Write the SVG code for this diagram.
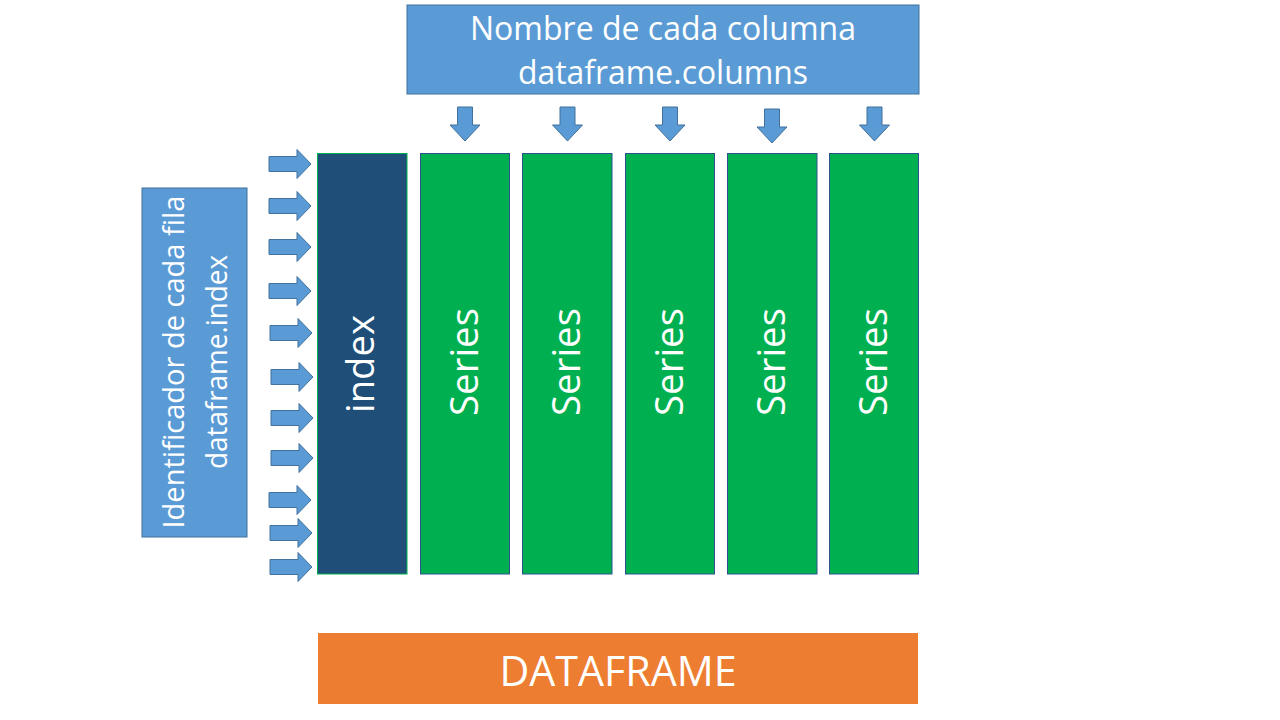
<svg xmlns="http://www.w3.org/2000/svg" width="1280" height="720" viewBox="0 0 1280 720">
<defs>
<style>
.blue{fill:#5B9BD5;stroke:#41719C;stroke-width:1}
.ser{fill:#00B050;stroke:#2F528F;stroke-width:1}
.idx{fill:#1F4E79;stroke:#00B050;stroke-width:1}
.df{fill:#ED7D31}
.t{font-family:"Open Sans","Noto Sans","Liberation Sans",sans-serif;fill:#FFFFFF;text-anchor:middle}
.big{font-size:39px}
</style>
<path id="ra" d="M0,-7.5 H28 V-14.5 L42,0 L28,14.5 V7.5 H0 Z"/>
<path id="da" d="M-7.5,0 V18 H-15 L0,34 L15,18 H7.5 V0 Z"/>
</defs>
<rect width="1280" height="720" fill="#FFFFFF"/>

<g id="columns-box">
<rect class="blue" x="407" y="5" width="512" height="89"/>
<text class="t" x="663" y="40" font-size="33.5" textLength="386" lengthAdjust="spacingAndGlyphs">Nombre de cada columna</text>
<text class="t" x="663" y="84" font-size="33.5" textLength="290" lengthAdjust="spacingAndGlyphs">dataframe.columns</text>
</g>

<g id="index-box">
<rect class="blue" x="142" y="188" width="105" height="349"/>
<g transform="rotate(-90 195 362)">
<text class="t" x="195" y="351" font-size="30" textLength="333" lengthAdjust="spacingAndGlyphs">Identificador de cada fila</text>
<text class="t" x="195" y="394" font-size="30" textLength="214" lengthAdjust="spacingAndGlyphs">dataframe.index</text>
</g>
</g>

<g id="index">
<rect class="idx" x="317.5" y="153.5" width="89.5" height="420.5"/>
<text class="t big" transform="rotate(-90 362 364)" x="362" y="376" textLength="98" lengthAdjust="spacingAndGlyphs">index</text>
</g>

<g id="series1">
<rect class="ser" x="420.5" y="153.5" width="89" height="420.5"/>
<text class="t big" transform="rotate(-90 464.5 362)" x="464.5" y="375" textLength="108" lengthAdjust="spacingAndGlyphs">Series</text>
</g>
<g id="series2">
<rect class="ser" x="522.5" y="153.5" width="89.5" height="420.5"/>
<text class="t big" transform="rotate(-90 567 362)" x="567" y="375" textLength="108" lengthAdjust="spacingAndGlyphs">Series</text>
</g>
<g id="series3">
<rect class="ser" x="625.5" y="153.5" width="89" height="420.5"/>
<text class="t big" transform="rotate(-90 669.5 362)" x="669.5" y="375" textLength="108" lengthAdjust="spacingAndGlyphs">Series</text>
</g>
<g id="series4">
<rect class="ser" x="727.5" y="153.5" width="89.5" height="420.5"/>
<text class="t big" transform="rotate(-90 772 362)" x="772" y="375" textLength="108" lengthAdjust="spacingAndGlyphs">Series</text>
</g>
<g id="series5">
<rect class="ser" x="829.5" y="153.5" width="89" height="420.5"/>
<text class="t big" transform="rotate(-90 873.5 362)" x="873.5" y="375" textLength="108" lengthAdjust="spacingAndGlyphs">Series</text>
</g>

<g id="dataframe">
<rect class="df" x="318" y="633" width="600" height="71"/>
<text class="t" x="618" y="686" font-size="42" textLength="237" lengthAdjust="spacingAndGlyphs">DATAFRAME</text>
</g>

<g id="connectors">
<use href="#ra" class="blue" x="269" y="164"/>
<use href="#ra" class="blue" x="269" y="206"/>
<use href="#ra" class="blue" x="269" y="247"/>
<use href="#ra" class="blue" x="269" y="291"/>
<use href="#ra" class="blue" x="270" y="333"/>
<use href="#ra" class="blue" x="271" y="377"/>
<use href="#ra" class="blue" x="271" y="418"/>
<use href="#ra" class="blue" x="271" y="458"/>
<use href="#ra" class="blue" x="269" y="500"/>
<use href="#ra" class="blue" x="270" y="533"/>
<use href="#ra" class="blue" x="270" y="567"/>
<use href="#da" class="blue" x="465" y="107"/>
<use href="#da" class="blue" x="567.5" y="107"/>
<use href="#da" class="blue" x="670" y="107"/>
<use href="#da" class="blue" x="772" y="109"/>
<use href="#da" class="blue" x="874.5" y="107"/>
</g>
</svg>
